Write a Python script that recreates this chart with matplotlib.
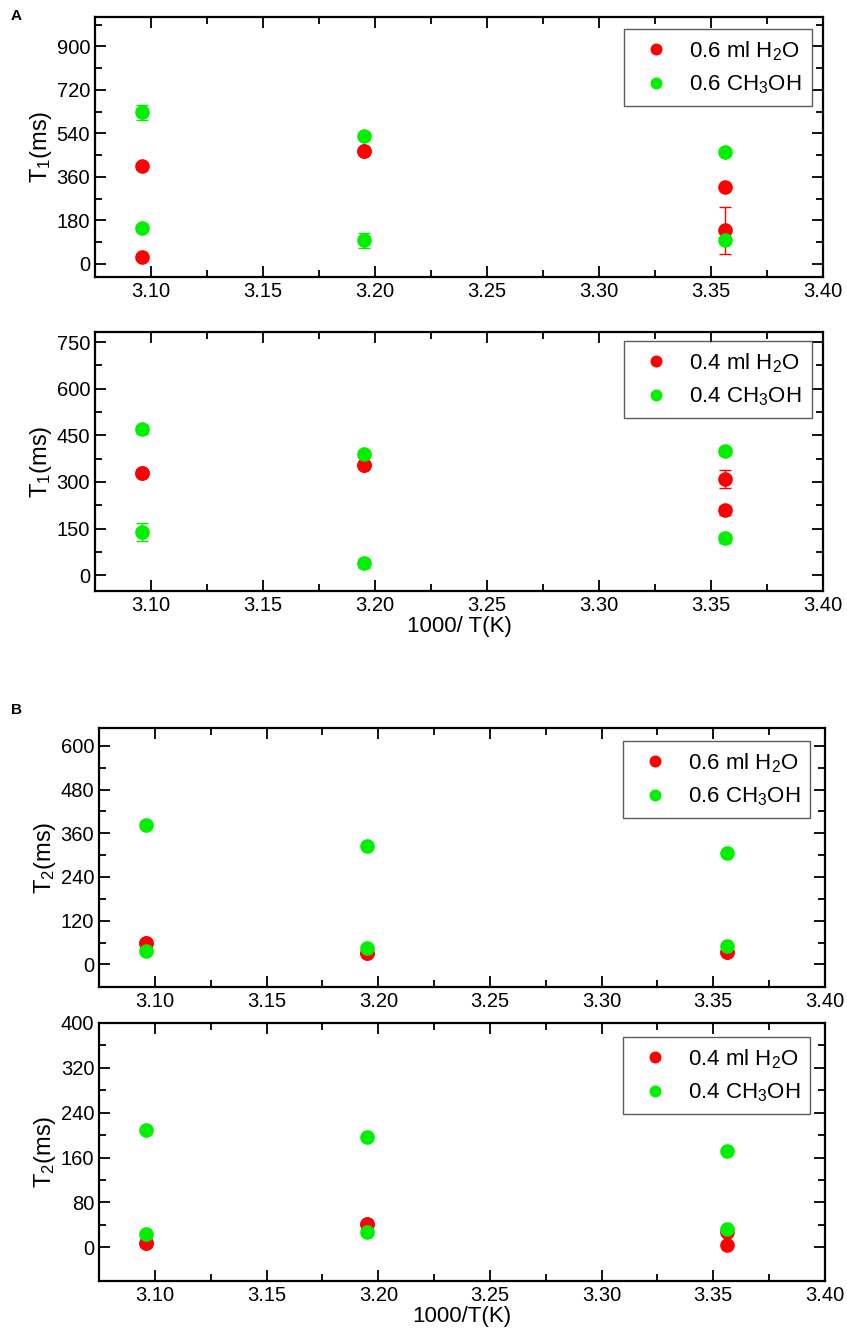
import matplotlib
matplotlib.use("Agg")
import matplotlib.pyplot as plt
import numpy as np

plt.rcParams['font.family'] = ['Liberation Sans', 'DejaVu Sans']
plt.rcParams['mathtext.default'] = 'regular'

# inverse temperature, 1000/T (K^-1)
x = np.array([3.096, 3.096, 3.195, 3.195, 3.356, 3.356])

# A: T1 (ms)
t1_h2o_06 = [28, 404, 469, 469, 318, 139]
t1_h2o_06_err = [8, 8, 8, 8, 8, 98]
t1_meoh_06 = [627, 147, 528, 98, 462, 98]
t1_meoh_06_err = [30, 12, 8, 31, 8, 8]

t1_h2o_04 = [329, 329, 356, 356, 309, 209]
t1_h2o_04_err = [8, 8, 8, 8, 30, 15]
t1_meoh_04 = [469, 139, 390, 38, 400, 119]
t1_meoh_04_err = [15, 29, 8, 15, 13, 15]

# B: T2 (ms)
t2_h2o_06 = [59, 59, 31, 31, 34, 34]
t2_meoh_06 = [383, 36, 326, 45, 305, 50]

t2_h2o_04 = [8, 8, 42, 42, 27, 5]
t2_meoh_04 = [209, 23, 196, 27, 171, 33]

RED = '#ff0000'
GREEN = '#00f000'

fig = plt.figure(figsize=(8.47, 13.39), dpi=100)

axes_rects = [
    [0.112, 0.7931, 0.860, 0.1942],
    [0.112, 0.5586, 0.860, 0.1934],
    [0.117, 0.2629, 0.857, 0.1934],
    [0.117, 0.0433, 0.857, 0.1927],
]


def style_axis(ax, ylim, ystep):
    ax.set_xlim(3.075, 3.40)
    ax.set_ylim(*ylim)
    ax.set_xticks(np.arange(3.10, 3.401, 0.05))
    ax.set_xticks(np.arange(3.075, 3.401, 0.025), minor=True)
    ax.xaxis.set_major_formatter(matplotlib.ticker.FormatStrFormatter('%.2f'))
    ax.set_yticks(np.arange(0, ylim[1] + 1, ystep))
    ax.set_yticks(np.arange(0, ylim[1] + 1, ystep / 2), minor=True)
    ax.tick_params(which='both', direction='in', top=True, right=True,
                   labelsize=14.5, width=1.3)
    ax.tick_params(which='major', length=8)
    ax.tick_params(which='minor', length=5)
    for s in ax.spines.values():
        s.set_linewidth(1.6)


def draw(ax, red, green, red_err, green_err, labels, ylim, ystep, ylabel, legend_bbox):
    r = ax.errorbar(x, red, yerr=red_err, fmt='o', color=RED, ms=9.5,
                    elinewidth=1, capsize=4, capthick=1, zorder=3)
    g = ax.errorbar(x, green, yerr=green_err, fmt='o', color=GREEN, ms=9.5,
                    elinewidth=1, capsize=4, capthick=1, zorder=4)
    style_axis(ax, ylim, ystep)
    ax.set_ylabel(ylabel, fontsize=17, labelpad=2)
    leg = ax.legend([r[0], g[0]], labels, loc='upper right',
                    bbox_to_anchor=legend_bbox,
                    fontsize=16, frameon=True, fancybox=False,
                    edgecolor='#333333', borderpad=0.45, labelspacing=0.5,
                    handlelength=2.0, handletextpad=0.5, markerscale=0.8,
                    borderaxespad=0)
    leg.get_frame().set_linewidth(1.0)


ax1 = fig.add_axes(axes_rects[0])
draw(ax1, t1_h2o_06, t1_meoh_06, t1_h2o_06_err, t1_meoh_06_err,
     ['0.6 ml H$_2$O', '0.6 CH$_3$OH'], (-54, 1021), 180, 'T$_1$(ms)',
     (0.984, 0.954))

ax2 = fig.add_axes(axes_rects[1])
draw(ax2, t1_h2o_04, t1_meoh_04, t1_h2o_04_err, t1_meoh_04_err,
     ['0.4 ml H$_2$O', '0.4 CH$_3$OH'], (-51, 782), 150, 'T$_1$(ms)',
     (0.984, 0.965))
ax2.set_xlabel('1000/ T(K)', fontsize=16, labelpad=1)

ax3 = fig.add_axes(axes_rects[2])
draw(ax3, t2_h2o_06, t2_meoh_06, [3] * 6, [3] * 6,
     ['0.6 ml H$_2$O', '0.6 CH$_3$OH'], (-62, 649), 120, 'T$_2$(ms)',
     (0.98, 0.95))

ax4 = fig.add_axes(axes_rects[3])
draw(ax4, t2_h2o_04, t2_meoh_04, [2] * 6, [2] * 6,
     ['0.4 ml H$_2$O', '0.4 CH$_3$OH'], (-60, 400), 80, 'T$_2$(ms)',
     (0.98, 0.946))
ax4.set_xlabel('1000/T(K)', fontsize=16, labelpad=1)

fig.text(0.013, 0.993, 'A', fontsize=11, fontweight='bold', va='top')
fig.text(0.013, 0.475, 'B', fontsize=11, fontweight='bold', va='top')

fig.savefig('out.png', dpi=100)
